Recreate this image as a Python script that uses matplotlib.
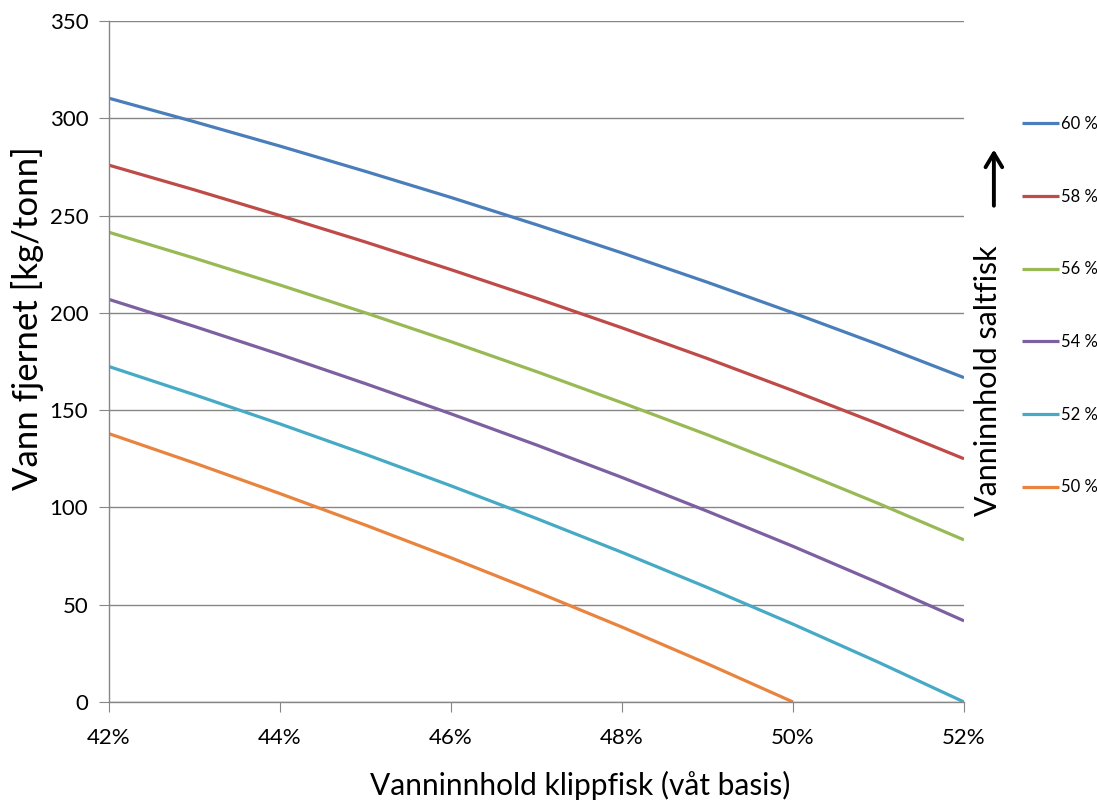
import matplotlib
matplotlib.use('Agg')
import matplotlib.pyplot as plt
from matplotlib.patches import FancyArrowPatch
from matplotlib.ticker import FuncFormatter

plt.rcParams['font.family'] = ['Lato', 'DejaVu Sans']

# Vanninnhold klippfisk (%), x-axis
klipp = [42, 43, 44, 45, 46, 47, 48, 49, 50, 51, 52]

# Vann fjernet [kg/tonn] for each saltfisk water content
s60 = [310.3, 298.2, 285.7, 272.7, 259.3, 245.3, 230.8, 215.7, 200.0, 183.7, 166.7]
s58 = [275.9, 263.2, 250.0, 236.4, 222.2, 207.5, 192.3, 176.5, 160.0, 142.9, 125.0]
s56 = [241.4, 228.1, 214.3, 200.0, 185.2, 169.8, 153.8, 137.3, 120.0, 102.0, 83.3]
s54 = [206.9, 193.0, 178.6, 163.6, 148.1, 132.1, 115.4, 98.0, 80.0, 61.2, 41.7]
s52 = [172.4, 157.9, 142.9, 127.3, 111.1, 94.3, 76.9, 58.8, 40.0, 20.4, 0.0]
s50 = [137.9, 122.8, 107.1, 90.9, 74.1, 56.6, 38.5, 19.6, 0.0]

labels = ['60 %', '58 %', '56 %', '54 %', '52 %', '50 %']
colors = ['#4A7EBB', '#BE4B48', '#98B954', '#7D60A0', '#46AAC5', '#E8843D']
series = [s60, s58, s56, s54, s52, s50]

fig = plt.figure(figsize=(10.97, 8.02), dpi=100)
ax = fig.add_axes([0.0994, 0.1247, 0.7794, 0.8491])

handles = []
for vals, lab, col in zip(series, labels, colors):
    h, = ax.plot(klipp[:len(vals)], vals, color=col, lw=2.3, label=lab,
                 solid_capstyle='butt')
    handles.append(h)

ax.set_xlim(42, 52)
ax.set_ylim(0, 350)
ax.set_xticks([42, 44, 46, 48, 50, 52])
ax.xaxis.set_major_formatter(FuncFormatter(lambda v, p: f'{v:.0f}%'))
ax.set_yticks(range(0, 351, 50))

gray = '#868686'
ax.yaxis.grid(True, color=gray, lw=1)
ax.set_axisbelow(True)
for s in ['top', 'right']:
    ax.spines[s].set_visible(False)
for s in ['left', 'bottom']:
    ax.spines[s].set_color(gray)
    ax.spines[s].set_linewidth(1)
ax.tick_params(axis='both', direction='out', length=7, color=gray,
               labelsize=16, pad=8)
ax.tick_params(axis='x', pad=12)

ax.set_ylabel('Vann fjernet [kg/tonn]', fontsize=25, va='center')
ax.yaxis.set_label_coords(-0.095, 0.564)
ax.set_xlabel('Vanninnhold klippfisk (våt basis)', fontsize=21.5, va='center')
ax.xaxis.set_label_coords(0.551, -0.122)

fig.legend(handles=handles, loc='upper left', bbox_to_anchor=(0.918, 0.874),
           frameon=False, fontsize=12, handlelength=2.2, handletextpad=0.15,
           labelspacing=3.4)

fig.text(0.901, 0.525, 'Vanninnhold saltfisk', rotation=90, fontsize=22,
         ha='center', va='center')
fig.add_artist(FancyArrowPatch(
    (0.906, 0.74), (0.906, 0.817), transform=fig.transFigure,
    arrowstyle='->,head_length=5,head_width=3', color='black', lw=2.8,
    mutation_scale=2))

fig.savefig('out.png', dpi=100)
